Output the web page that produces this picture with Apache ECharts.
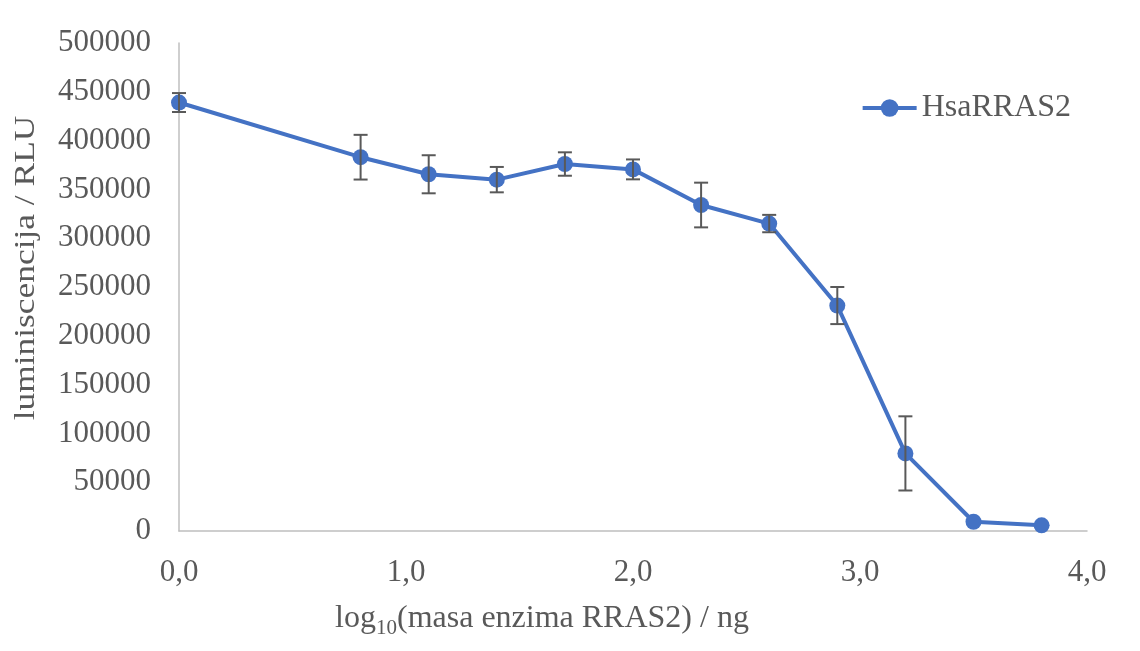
<!DOCTYPE html>
<html>
<head>
<meta charset="utf-8">
<script src="https://cdn.jsdelivr.net/npm/echarts@6/dist/echarts.min.js"></script>
<style>html,body{margin:0;padding:0;background:#fff;}#c{width:1140px;height:651px;}</style>
</head>
<body>
<div id="c"></div>
<script>
var xValues = [0.0, 0.8, 1.1, 1.4, 1.7, 2.0, 2.3, 2.6, 2.9, 3.2, 3.5, 3.8];
var yValues = [439000, 383000, 365500, 360000, 376000, 370500, 334000, 315000, 231000, 79500, 9500, 5800];
var yErrors = [9700, 22900, 19500, 13000, 12000, 10200, 22900, 8900, 19000, 38000, 0, 0];
var seriesName = 'HsaRRAS2';
var yTicks = [0, 50000, 100000, 150000, 200000, 250000, 300000, 350000, 400000, 450000, 500000];
var yTitle = 'luminiscencija / RLU';

var textColor = '#595959';
var font = 'Liberation Serif';
var pts = xValues.map(function (x, i) { return [x, yValues[i]]; });
var errData = xValues.map(function (x, i) { return [x, yValues[i] - yErrors[i], yValues[i] + yErrors[i]]; });

var chart = echarts.init(document.getElementById('c'), null, {renderer: 'canvas'});
chart.setOption({
  animation: false,
  backgroundColor: '#ffffff',
  textStyle: {fontFamily: font},
  grid: {left: 179, right: 53, top: 43, bottom: 120},
  legend: {
    data: [seriesName],
    right: 64, top: 87,
    itemWidth: 54, itemHeight: 22, itemGap: 10,
    lineStyle: {width: 4},
    textStyle: {fontFamily: font, fontSize: 32, color: textColor}
  },
  graphic: [{
    type: 'text',
    x: 26, y: 268,
    rotation: Math.PI / 2,
    scaleX: 1.22,
    style: {text: yTitle, font: '29px "Liberation Serif"', fill: textColor,
      textAlign: 'center', textVerticalAlign: 'middle'}
  }],
  xAxis: {
    type: 'value', min: 0, max: 4, interval: 1,
    axisLine: {show: true, lineStyle: {color: '#bfbfbf', width: 1.5}},
    axisTick: {show: false},
    splitLine: {show: false},
    axisLabel: {fontFamily: font, fontSize: 31, color: textColor, margin: 26,
      formatter: function (v) { return v.toFixed(1).replace('.', ','); }},
    name: '{a|log}{sub|10}{a|(masa enzima RRAS2) / ng}',
    nameLocation: 'middle', nameGap: 72,
    nameTextStyle: {
      padding: [0, 182, 0, 0],
      rich: {
        a: {fontFamily: font, fontSize: 32, color: textColor, lineHeight: 32, verticalAlign: 'top'},
        sub: {fontFamily: font, fontSize: 21, color: textColor, lineHeight: 21, padding: [15, 0, 0, 0], verticalAlign: 'top'}
      }
    }
  },
  yAxis: {
    type: 'value', min: 0, max: 500000, interval: 50000,
    axisLine: {show: true, lineStyle: {color: '#bfbfbf', width: 1.5}},
    axisTick: {show: false},
    splitLine: {show: false},
    axisLabel: {fontFamily: font, fontSize: 31, color: textColor, margin: 28,
      formatter: function (v) { return yTicks.indexOf(v) >= 0 ? String(v) : ''; }}
  },
  series: [
    {
      name: 'err', type: 'custom', z: 3,
      data: errData,
      renderItem: function (params, api) {
        var x = api.value(0);
        var lo = api.coord([x, api.value(1)]);
        var hi = api.coord([x, api.value(2)]);
        if (Math.abs(lo[1] - hi[1]) < 1) return null;
        var hw = 7;
        var st = {stroke: '#595959', lineWidth: 2};
        return {type: 'group', children: [
          {type: 'line', shape: {x1: lo[0], y1: lo[1], x2: hi[0], y2: hi[1]}, style: st},
          {type: 'line', shape: {x1: lo[0] - hw, y1: lo[1], x2: lo[0] + hw, y2: lo[1]}, style: st},
          {type: 'line', shape: {x1: hi[0] - hw, y1: hi[1], x2: hi[0] + hw, y2: hi[1]}, style: st}
        ]};
      }
    },
    {
      name: seriesName, type: 'line', z: 2,
      data: pts,
      symbol: 'circle', symbolSize: 16,
      lineStyle: {color: '#4472C4', width: 4},
      itemStyle: {color: '#4472C4'}
    }
  ]
});
</script>
</body>
</html>
